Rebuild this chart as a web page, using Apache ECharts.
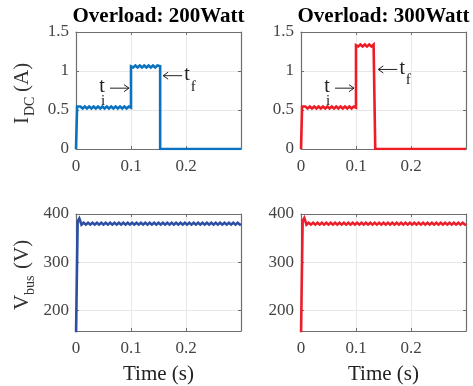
<!DOCTYPE html>
<html>
<head>
<meta charset="utf-8">
<script src="https://cdn.jsdelivr.net/npm/echarts@6/dist/echarts.min.js"></script>
<style>
  html, body { margin: 0; padding: 0; background: #fff; }
  #c { width: 473px; height: 386px; }
</style>
</head>
<body>
<div id="c"></div>
<script>
// Panel titles and axis ticks
const titles = ['Overload: 200Watt', 'Overload: 300Watt'];
const timeTicks = [0, 0.1, 0.2];
const idcTicks = [0, 0.5, 1, 1.5];
const vbusTicks = [200, 300, 400];

// DC current, 200 W overload (time in s, current in A)
const idc200T = [0, 0.002,
  0.004, 0.008, 0.012, 0.016, 0.020, 0.024, 0.028, 0.032, 0.036, 0.040, 0.044, 0.048,
  0.052, 0.056, 0.060, 0.064, 0.068, 0.072, 0.076, 0.080, 0.084, 0.088, 0.092, 0.096,
  0.100, 0.100,
  0.104, 0.108, 0.112, 0.116, 0.120, 0.124, 0.128, 0.132, 0.136, 0.140, 0.144, 0.148,
  0.153, 0.153, 0.300];
const idc200 = [0, 0.545,
  0.52, 0.545, 0.52, 0.545, 0.52, 0.545, 0.52, 0.545, 0.52, 0.545, 0.52, 0.545,
  0.52, 0.545, 0.52, 0.545, 0.52, 0.545, 0.52, 0.545, 0.52, 0.545, 0.52, 0.545,
  0.53, 1.06,
  1.045, 1.07, 1.045, 1.07, 1.045, 1.07, 1.045, 1.07, 1.045, 1.07, 1.045, 1.07,
  1.06, 0, 0];

// DC current, 300 W overload
const idc300T = [0, 0.002,
  0.004, 0.008, 0.012, 0.016, 0.020, 0.024, 0.028, 0.032, 0.036, 0.040, 0.044, 0.048,
  0.052, 0.056, 0.060, 0.064, 0.068, 0.072, 0.076, 0.080, 0.084, 0.088, 0.092, 0.096,
  0.100, 0.100,
  0.104, 0.108, 0.112, 0.116, 0.120, 0.124, 0.128, 0.132,
  0.135, 0.135, 0.300];
const idc300 = [0, 0.545,
  0.52, 0.545, 0.52, 0.545, 0.52, 0.545, 0.52, 0.545, 0.52, 0.545, 0.52, 0.545,
  0.52, 0.545, 0.52, 0.545, 0.52, 0.545, 0.52, 0.545, 0.52, 0.545, 0.52, 0.545,
  0.53, 1.33,
  1.315, 1.34, 1.315, 1.34, 1.315, 1.34, 1.315, 1.34,
  1.33, 0, 0];

// Bus voltage samples (time in s, voltage in V)
const vbusT = [0, 0.003, 0.006, 0.010,
  0.014, 0.018, 0.022, 0.026, 0.030, 0.034, 0.038, 0.042, 0.046, 0.050,
  0.054, 0.058, 0.062, 0.066, 0.070, 0.074, 0.078, 0.082, 0.086, 0.090,
  0.094, 0.098, 0.102, 0.106, 0.110, 0.114, 0.118, 0.122, 0.126, 0.130,
  0.134, 0.138, 0.142, 0.146, 0.150, 0.154, 0.158, 0.162, 0.166, 0.170,
  0.174, 0.178, 0.182, 0.186, 0.190, 0.194, 0.198, 0.202, 0.206, 0.210,
  0.214, 0.218, 0.222, 0.226, 0.230, 0.234, 0.238, 0.242, 0.246, 0.250,
  0.254, 0.258, 0.262, 0.266, 0.270, 0.274, 0.278, 0.282, 0.286, 0.290,
  0.294, 0.298, 0.300];
const vbus200 = [150, 385, 391, 378,
  382, 378, 382, 378, 382, 378, 382, 378, 382, 378,
  382, 378, 382, 378, 382, 378, 382, 378, 382, 378,
  382, 378, 382, 378, 382, 378, 382, 378, 382, 378,
  382, 378, 382, 378, 382, 378, 382, 378, 382, 378,
  382, 378, 382, 378, 382, 378, 382, 378, 382, 378,
  382, 378, 382, 378, 382, 378, 382, 378, 382, 378,
  382, 378, 382, 378, 382, 378, 382, 378, 382, 378,
  382, 378, 380];
const vbus300 = [150, 386, 392, 378,
  382, 378, 382, 378, 382, 378, 382, 378, 382, 378,
  382, 378, 382, 378, 382, 378, 382, 378, 382, 378,
  382, 378, 382, 378, 382, 378, 382, 378, 382, 378,
  382, 378, 382, 378, 382, 378, 382, 378, 382, 378,
  382, 378, 382, 378, 382, 378, 382, 378, 382, 378,
  382, 378, 382, 378, 382, 378, 382, 378, 382, 378,
  382, 378, 382, 378, 382, 378, 382, 378, 382, 378,
  382, 378, 380];

const zip = (t, v) => t.map((x, i) => [x, v[i]]);

const SERIF = '"Liberation Serif", "Times New Roman", serif';
const AXIS_COLOR = '#6e6e6e';
const LABEL_COLOR = '#444444';
const GRID_COLOR = '#e8e8e8';

// Panel rectangles: [left, top, width, height]
const panels = [
  { rect: [76, 32, 165, 117], kind: 'idc' },
  { rect: [301, 32, 165, 117], kind: 'idc' },
  { rect: [76, 214, 165, 117], kind: 'vbus' },
  { rect: [301, 214, 165, 117], kind: 'vbus' }
];

const grids = [], xAxes = [], yAxes = [];
panels.forEach((p, i) => {
  grids.push({ left: p.rect[0], top: p.rect[1], width: p.rect[2], height: p.rect[3],
    show: false, containLabel: false });
  const xBase = { gridIndex: i, type: 'value', min: 0, max: 0.3, interval: 0.1 };
  xAxes.push(Object.assign({}, xBase, {
    position: 'bottom',
    axisLine: { show: true, onZero: false, lineStyle: { color: AXIS_COLOR, width: 1.2 } },
    axisTick: { show: true, inside: true, length: 3, lineStyle: { color: AXIS_COLOR } },
    axisLabel: { show: true, showMaxLabel: false, margin: 9, fontFamily: SERIF, fontSize: 17,
      color: LABEL_COLOR,
      formatter: v => (timeTicks.some(t => Math.abs(t - v) < 1e-9) ? String(v) : '') },
    splitLine: { show: true, lineStyle: { color: GRID_COLOR, width: 1 } }
  }));
  xAxes.push(Object.assign({}, xBase, {
    position: 'top',
    axisLine: { show: true, onZero: false, lineStyle: { color: AXIS_COLOR, width: 1.2 } },
    axisTick: { show: true, inside: true, length: 3, lineStyle: { color: AXIS_COLOR } },
    axisLabel: { show: false },
    splitLine: { show: false }
  }));
  const yBase = p.kind === 'idc'
    ? { gridIndex: i, type: 'value', min: 0, max: 1.5, interval: 0.5 }
    : { gridIndex: i, type: 'value', min: 158, max: 400 };
  const ticks = p.kind === 'idc' ? idcTicks : vbusTicks;
  yAxes.push(Object.assign({}, yBase, {
    position: 'left',
    axisLine: { show: true, onZero: false, lineStyle: { color: AXIS_COLOR, width: 1.2 } },
    axisTick: { show: true, inside: true, length: 3, lineStyle: { color: AXIS_COLOR },
      customValues: ticks },
    axisLabel: { show: true, margin: 7, fontFamily: SERIF, fontSize: 17, color: LABEL_COLOR,
      customValues: ticks },
    splitLine: { show: true, lineStyle: { color: GRID_COLOR, width: 1 } }
  }));
  yAxes.push(Object.assign({}, yBase, {
    position: 'right',
    axisLine: { show: true, onZero: false, lineStyle: { color: AXIS_COLOR, width: 1.2 } },
    axisTick: { show: true, inside: true, length: 3, lineStyle: { color: AXIS_COLOR },
      customValues: ticks },
    axisLabel: { show: false },
    splitLine: { show: false }
  }));
});

const traces = [
  { data: zip(idc200T, idc200), color: '#0a72bf' },
  { data: zip(idc300T, idc300), color: '#ee1c25' },
  { data: zip(vbusT, vbus200), color: '#2c4fa3' },
  { data: zip(vbusT, vbus300), color: '#ea1f2b' }
];

const series = traces.map((tr, i) => ({
  type: 'line', xAxisIndex: 2 * i, yAxisIndex: 2 * i,
  data: tr.data, showSymbol: false, symbol: 'none', clip: true, animation: false,
  lineStyle: { color: tr.color, width: 2.6, join: 'miter' }
}));

const chart = echarts.init(document.getElementById('c'));
chart.setOption({
  animation: false,
  backgroundColor: '#ffffff',
  grid: grids, xAxis: xAxes, yAxis: yAxes, series: series
});

// Text and arrow overlays
const px = (i, pt) => chart.convertToPixel({ xAxisIndex: 2 * i, yAxisIndex: 2 * i }, pt);
const txt = (x, y, s, size, extra) => ({
  type: 'text', x: x, y: y, silent: true,
  style: Object.assign({ text: s, fontFamily: SERIF, fontSize: size, fill: '#222',
    align: 'left', verticalAlign: 'middle' }, extra || {})
});
const arrow = (x0, x1, y) => {
  // shaft from x0 to x1, head at x1
  const d = x1 > x0 ? -1 : 1;
  return [
    { type: 'line', silent: true, shape: { x1: x0, y1: y, x2: x1, y2: y },
      style: { stroke: '#222', lineWidth: 1 } },
    { type: 'polyline', silent: true,
      shape: { points: [[x1 + d * 5, y - 3.5], [x1, y], [x1 + d * 5, y + 3.5]] },
      style: { stroke: '#222', lineWidth: 1, fill: null } }
  ];
};

const elements = [];
// Titles
[0, 1].forEach(i => {
  const r = panels[i].rect;
  elements.push(txt(r[0] + r[2] / 2, 17, titles[i], 21,
    { align: 'center', fontWeight: 'bold', fill: '#000' }));
});
// X-axis names
[2, 3].forEach(i => {
  const r = panels[i].rect;
  elements.push(txt(r[0] + r[2] / 2, 374, 'Time (s)', 21, { align: 'center' }));
});
// Y-axis names (rotated, with subscripts)
const yName = (x, yBottom, main, sub, tail) => ({
  type: 'group', x: x, y: yBottom, rotation: Math.PI / 2, silent: true,
  children: [
    txt(0, 0, main, 21, { fill: '#333' }),
    txt(main === 'I' ? 8 : 15, 8, sub, 14, { fill: '#333' }),
    txt(main === 'I' ? 32 : 41, 0, tail, 21, { fill: '#333' })
  ]
});
elements.push(yName(22, 124, 'I', 'DC', '(A)'));
elements.push(yName(22, 310, 'V', 'bus', '(V)'));

// Event markers: t_i at the load step, t_f where the overload is removed
const markers = [
  { panel: 0, ti: [0.1, 0.78], tf: [0.153, 0.94] },
  { panel: 1, ti: [0.1, 0.78], tf: [0.135, 1.02] }
];
markers.forEach(m => {
  const a = px(m.panel, m.ti);
  const tipI = a[0] - 2;
  elements.push(...arrow(tipI - 19, tipI, a[1]));
  elements.push(txt(tipI - 27, a[1] - 1, 't', 20, { align: 'center' }));
  elements.push(txt(tipI - 26, a[1] + 13, 'i', 15, { align: 'center' }));
  const b = px(m.panel, m.tf);
  const tipF = b[0] + 3;
  elements.push(...arrow(tipF + 19, tipF, b[1]));
  elements.push(txt(tipF + 24, b[1] - 1, 't', 20, { align: 'center' }));
  elements.push(txt(tipF + 30, b[1] + 11, 'f', 15, { align: 'center' }));
});

chart.setOption({ graphic: { elements: elements } });
</script>
</body>
</html>
